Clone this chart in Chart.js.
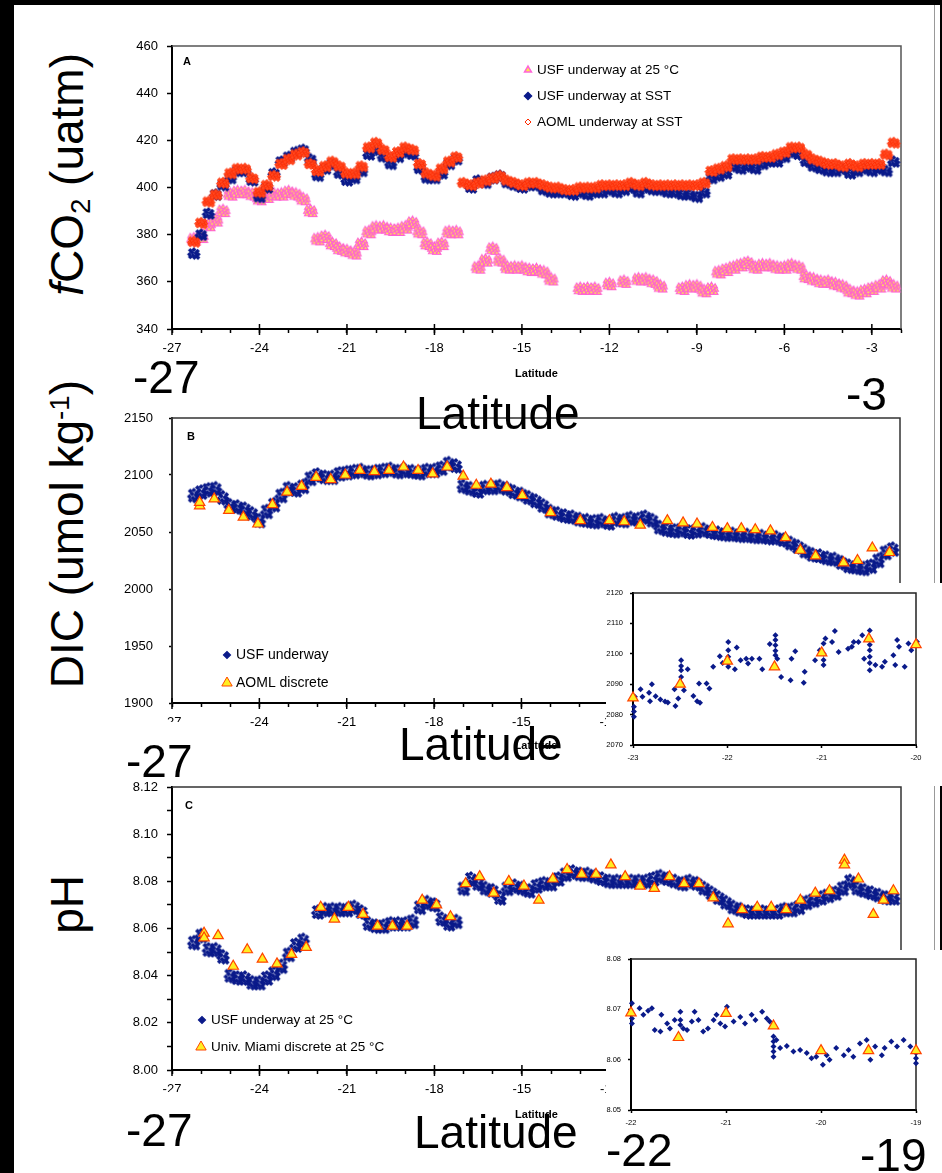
<!DOCTYPE html>
<html>
<head>
<meta charset="utf-8">
<script src="https://cdn.jsdelivr.net/npm/chart.js@4.4.0/dist/chart.umd.min.js"></script>
<style>
  body { margin: 0; background: #000; width: 942px; height: 1173px; overflow: hidden; position: relative; }
  #sheet { position: absolute; left: 14px; top: 5px; width: 926px; height: 1168px; background: #fff; }
  #edge { position: absolute; left: 934px; top: 5px; width: 1px; height: 1168px; background: #999; }
  canvas { position: absolute; }
  canvas.inset { background: #fff; }
  .big, .ytitle { position: absolute; font-family: "Liberation Sans", Arial, sans-serif; font-size: 46px; line-height: 1; color: #000; white-space: nowrap; }
  .ytitle { transform: rotate(-90deg); transform-origin: 0 0; text-align: right; }
  .ytitle sub { font-size: 0.6em; vertical-align: baseline; position: relative; top: 0.25em; line-height: 0; }
  .ytitle sup { font-size: 0.6em; vertical-align: baseline; position: relative; top: -0.5em; line-height: 0; }
  .mask { position: absolute; background: #fff; }
</style>
</head>
<body>
<div id="sheet"></div>
<div id="edge"></div>

<canvas id="chartA" width="800" height="345" style="left:122px; top:36px;"></canvas>
<canvas id="chartB" width="800" height="345" style="left:122px; top:408px;"></canvas>
<canvas id="chartC" width="800" height="345" style="left:122px; top:777px;"></canvas>
<canvas id="insetB" class="inset" width="336" height="203" style="left:606px; top:583px;"></canvas>
<canvas id="insetC" class="inset" width="336" height="223" style="left:606px; top:950px;"></canvas>

<div class="mask" style="left:150px; top:722px; width:45px; height:10px;"></div>
<div class="mask" style="left:150px; top:1092px; width:45px; height:9px;"></div>

<div class="ytitle" style="left:44px; top:373px; width:320px;"><i>f</i>CO<sub>2</sub> (uatm)</div>
<div class="ytitle" style="left:44px; top:720px; width:340px;">DIC (umol kg<sup>-1</sup>)</div>
<div class="ytitle" style="left:44px; top:975px; width:100px;">pH</div>

<div class="big" style="left:133px; top:354px;">-27</div>
<div class="big" style="left:416px; top:390px;">Latitude</div>
<div class="big" style="left:846px; top:371px;">-3</div>
<div class="big" style="left:126px; top:738px;">-27</div>
<div class="big" style="left:399px; top:721px;">Latitude</div>
<div class="big" style="left:126px; top:1107px;">-27</div>
<div class="big" style="left:414px; top:1109px;">Latitude</div>
<div class="big" style="left:606px; top:1127px;">-22</div>
<div class="big" style="left:860px; top:1132px;">-19</div>

<script>
// latitude grid shared by the underway series (0.25 degree bins)
const lat = [
  -26.5, -26.25, -26, -25.75, -25.5, -25.25, -25, -24.75, -24.5, -24.25,
  -24, -23.75, -23.5, -23.25, -23, -22.75, -22.5, -22.25, -22, -21.75,
  -21.5, -21.25, -21, -20.75, -20.5, -20.25, -20, -19.75, -19.5, -19.25,
  -19, -18.75, -18.5, -18.25, -18, -17.75, -17.5, -17.25, -17, -16.75,
  -16.5, -16.25, -16, -15.75, -15.5, -15.25, -15, -14.75, -14.5, -14.25,
  -14, -13.75, -13.5, -13.25, -13, -12.75, -12.5, -12.25, -12, -11.75,
  -11.5, -11.25, -11, -10.75, -10.5, -10.25, -10, -9.75, -9.5, -9.25,
  -9, -8.75, -8.5, -8.25, -8, -7.75, -7.5, -7.25, -7, -6.75,
  -6.5, -6.25, -6, -5.75, -5.5, -5.25, -5, -4.75, -4.5, -4.25,
  -4, -3.75, -3.5, -3.25, -3, -2.75, -2.5, -2.25, -2
];

// A: fCO2 (uatm)
const fco2UsfSst = [
  null, 372, 380, 389, 397, 401, 404, 407, 407, 403,
  396, 400, 406, 411, 413, 415, 416, 412, 405, 408,
  410, 406, 403, 404, 407, 414, 416, 413, 410, 413,
  415, 414, 408, 404, 404, 406, 410, 412, null, 400,
  403, 402, 404, 405, 402, 401, 400, 401, 401, 399,
  398, 398, 398, 397, 398, 397, 398, 398, 399, 398,
  399, 400, 398, 400, 399, 399, 398, 398, 397, 397,
  396, 398, 404, 405, 406, 409, 408, 409, 408, 410,
  411, 411, 413, 415, 414, 411, 409, 408, 407, 407,
  408, 406, 407, 408, 407, 408, 407, 411, null
];
const fco2AomlSst = [
  null, 377, 385, 394, 397, 402, 406, 408, 408, 404,
  398, 401, 405, 410, 412, 414, 415, 410, 407, 409,
  411, 409, 406, 406, 409, 417, 419, 416, 413, 415,
  417, 416, 410, 406, 405, 408, 411, 413, 402, 401,
  402, 403, 404, 405, 403, 402, 401, 402, 402, 401,
  400, 400, 399, 399, 400, 400, 400, 401, 401, 401,
  401, 402, 401, 402, 401, 401, 401, 401, 401, 401,
  401, 402, 407, 408, 409, 412, 412, 412, 412, 413,
  413, 414, 415, 417, 417, 414, 412, 411, 410, 410,
  409, 410, 409, 410, 410, 410, 414, 419, null
];
const fco2Usf25 = [
  null, 378, 379, 384, 386, 390, 397, 398, 398, 397,
  395, 396, 397, 397, 398, 397, 395, 390, 378, 379,
  376, 374, 373, 372, 376, 381, 383, 383, 382, 382,
  383, 385, 381, 376, 374, 376, 381, 381, null, null,
  366, 369, 374, 369, 366, 366, 366, 365, 365, 364,
  361, null, null, null, 357, 357, 357, null, 359, null,
  360, null, 361, 361, 360, 358, null, null, 357, 358,
  358, 356, 357, 364, 365, 366, 367, 368, 366, 367,
  367, 366, 366, 367, 366, 362, 361, 360, 360, 359,
  358, 356, 355, 356, 357, 358, 360, 358, null
];

// B: DIC (umol/kg)
const dicUsf = [
  null, 2082, 2085, 2087, 2088, 2080, 2073, 2072, 2070, 2066,
  2060, 2068, 2074, 2082, 2088, 2087, 2090, 2097, 2100, 2098,
  2098, 2101, 2102, 2103, 2104, 2102, 2103, 2104, 2105, 2103,
  2104, 2103, 2102, 2104, 2104, 2106, 2110, 2108, 2090, 2088,
  2086, 2089, 2089, 2090, 2088, 2085, 2083, 2080, 2077, 2073,
  2068, 2066, 2064, 2063, 2061, 2060, 2059, 2060, 2058, 2061,
  2060, 2062, 2061, 2063, 2060, 2054, 2052, 2051, 2052, 2050,
  2051, 2052, 2050, 2049, 2048, 2048, 2047, 2047, 2046, 2046,
  2045, 2045, 2043, 2040, 2037, 2033, 2030, 2029, 2027, 2026,
  2023, 2020, 2019, 2018, 2020, 2025, 2032, 2035, null
];
const dicAomlLat = [
  -26.05, -26.05, -25.55, -25.05, -24.55, -24.05, -23.55, -23.05, -22.55, -22.05, -21.55,
  -21.05, -20.55, -20.05, -19.55, -19.05, -18.55, -18.05, -17.55, -17.0, -16.55, -16.05,
  -15.5, -14.97, -14.0, -12.98, -11.98, -11.47, -10.92, -9.99, -9.45, -8.97, -8.44,
  -7.93, -7.45, -6.97, -6.45, -5.93, -5.42, -4.9, -3.94, -3.46, -2.95, -2.36
];
const dicAoml = [
  2073, 2076, 2079, 2069, 2063, 2057, 2074, 2085, 2090, 2098, 2096,
  2100, 2104, 2103, 2104, 2107, 2104, 2101, 2107, 2099, 2091, 2092,
  2089, 2082, 2067, 2060, 2060, 2059, 2056, 2060, 2058, 2057, 2054,
  2053, 2053, 2052, 2051, 2045, 2034, 2029, 2023, 2025, 2036, 2032
];

// C: pH at 25 C
const phUsf = [
  null, 8.054, 8.057, 8.051, 8.051, 8.048, 8.040, 8.039, 8.039, 8.037,
  8.037, 8.039, 8.041, 8.044, 8.049, 8.053, 8.055, null, 8.067, 8.068,
  8.068, 8.068, 8.068, 8.069, 8.067, 8.062, 8.061, 8.061, 8.062, 8.062,
  8.062, 8.063, 8.069, 8.071, 8.070, 8.064, 8.062, 8.063, 8.077, 8.081,
  8.079, 8.077, 8.076, 8.073, 8.077, 8.078, 8.077, 8.076, 8.078, 8.079,
  8.079, 8.081, 8.083, 8.084, 8.083, 8.083, 8.082, 8.081, 8.080, 8.080,
  8.080, 8.080, 8.080, 8.080, 8.081, 8.082, 8.081, 8.080, 8.079, 8.080,
  8.079, 8.077, 8.075, 8.073, 8.071, 8.069, 8.068, 8.067, 8.067, 8.067,
  8.067, 8.067, 8.068, 8.068, 8.069, 8.071, 8.072, 8.073, 8.074, 8.075,
  8.077, 8.080, 8.077, 8.076, 8.075, 8.074, 8.073, 8.073, null
];
const phMiamiLat = [
  -25.9, -25.9, -25.42, -24.9, -24.42, -23.9, -23.4, -22.9, -22.4, -21.9, -21.43, -20.95, -20.45,
  -19.95, -19.44, -18.94, -18.42, -17.93, -17.45, -16.93, -16.45, -15.97, -15.45, -14.93, -14.42,
  -13.94, -13.45, -12.95, -12.46, -11.95, -11.46, -10.95, -10.46, -9.94, -9.44, -8.93, -8.44,
  -7.93, -7.45, -6.93, -6.45, -5.94, -5.45, -4.94, -4.45, -3.94, -3.94, -3.46, -2.95, -2.6, -2.26
];
const phMiami = [
  8.058, 8.056, 8.057, 8.044, 8.051, 8.047, 8.045, 8.049, 8.052, 8.069, 8.064, 8.069, 8.066,
  8.061, 8.061, 8.061, 8.072, 8.070, 8.065, 8.079, 8.082, 8.075, 8.080, 8.078, 8.072,
  8.081, 8.085, 8.083, 8.083, 8.087, 8.082, 8.078, 8.077, 8.082, 8.079, 8.079, 8.073,
  8.062, 8.068, 8.069, 8.069, 8.068, 8.072, 8.075, 8.076, 8.089, 8.087, 8.081, 8.066, 8.072, 8.076
];

// inset of B: -23 to -20
const insetDicLat = [
  -22.99, -22.99, -22.99, -22.98, -22.92, -22.9, -22.83, -22.82, -22.8, -22.76, -22.71, -22.66, -22.63,
  -22.56, -22.55, -22.52, -22.49, -22.49, -22.49, -22.49, -22.49, -22.46, -22.42, -22.36, -22.32, -22.3,
  -22.29, -22.22, -22.19, -22.15, -22.08, -22.05, -21.99, -21.99, -21.99, -21.99, -21.99, -21.92, -21.9,
  -21.86, -21.8, -21.78, -21.74, -21.66, -21.63, -21.55, -21.49, -21.49, -21.49, -21.49, -21.49, -21.47,
  -21.43, -21.33, -21.32, -21.28, -21.19, -21.18, -21.07, -21.02, -20.98, -20.98, -20.98, -20.98, -20.96,
  -20.89, -20.86, -20.82, -20.72, -20.68, -20.66, -20.61, -20.57, -20.55, -20.49, -20.49, -20.49, -20.49,
  -20.49, -20.49, -20.49, -20.43, -20.36, -20.33, -20.24, -20.22, -20.2, -20.18, -20.12, -20.08, -20.05,
  -19.99, -19.99, -19.99, -19.99
];
const insetDicUsf = [
  2079.3, 2081, 2082.6, 2085.9, 2088.3, 2085.9, 2087.2, 2084.4, 2090, 2086, 2085, 2084.3, 2084,
  2088.3, 2082.8, 2085.3, 2097.9, 2096, 2094.6, 2092.4, 2090.2, 2088, 2094.9, 2086.1, 2084.4, 2090.2,
  2083.9, 2090.2, 2088.6, 2095.7, 2099.2, 2097, 2103.9, 2101.2, 2099, 2097, 2095.7, 2094.9, 2102.1,
  2097.9, 2098.4, 2096.8, 2098.4, 2098.4, 2094.9, 2103.2, 2106.1, 2104.5, 2102.8, 2101, 2099.5, 2098.4,
  2092.4, 2091.3, 2098.4, 2100.8, 2090.5, 2094.1, 2097.9, 2101.2, 2103.4, 2100, 2098, 2096.3, 2105,
  2103.9, 2107.5, 2100.6, 2101.7, 2102.3, 2103.9, 2103.9, 2106.1, 2098.4, 2107.7, 2105, 2103, 2101.2,
  2099, 2097, 2094.6, 2096.3, 2095.7, 2097.4, 2099.5, 2096.3, 2104.5, 2102.3, 2095.7, 2103.4, 2101.2,
  2104, 2102, 2098.8, 2096.6
];
const insetDicAomlLat = [-23, -22.5, -22, -21.5, -21, -20.5, -20];
const insetDicAoml = [2085.5, 2090, 2097.6, 2095.7, 2100.3, 2104.9, 2103];

// inset of C: -22 to -19
const insetPhLat = [
  -21.99, -21.99, -21.99, -21.91, -21.87, -21.82, -21.78, -21.75, -21.69, -21.68, -21.62, -21.59,
  -21.54, -21.48, -21.48, -21.48, -21.45, -21.41, -21.36, -21.33, -21.29, -21.24, -21.19, -21.13,
  -21.1, -21.06, -21.01, -20.99, -20.92, -20.85, -20.8, -20.73, -20.69, -20.62, -20.57, -20.54,
  -20.5, -20.5, -20.5, -20.5, -20.5, -20.47, -20.43, -20.36, -20.29, -20.22, -20.15, -20.1, -20.05,
  -19.98, -19.94, -19.91, -19.84, -19.76, -19.71, -19.66, -19.59, -19.52, -19.48, -19.43, -19.36,
  -19.33, -19.26, -19.2, -19.13, -19.06, -19, -19, -19
];
const insetPhUsf = [
  8.0712, 8.0682, 8.0672, 8.0702, 8.0689, 8.0697, 8.0702, 8.0659, 8.0656, 8.0689, 8.0672, 8.0662,
  8.0679, 8.0695, 8.0679, 8.0669, 8.0662, 8.0659, 8.0676, 8.0695, 8.0679, 8.0656, 8.0662, 8.0679,
  8.0689, 8.0672, 8.0666, 8.0705, 8.0676, 8.0685, 8.0672, 8.0689, 8.0679, 8.0695, 8.0682, 8.0676,
  8.0646, 8.0636, 8.0626, 8.0616, 8.0606, 8.0639, 8.0623, 8.0627, 8.0616, 8.0619, 8.0613, 8.0603, 8.0606,
  8.059, 8.0609, 8.06, 8.0623, 8.0609, 8.0619, 8.0606, 8.0632, 8.0639, 8.06, 8.0626, 8.0609,
  8.0623, 8.0636, 8.0626, 8.0639, 8.0626, 8.0613, 8.0603, 8.0593
];
const insetPhMiamiLat = [-22, -21.5, -21, -20.5, -20, -19.5, -19];
const insetPhMiami = [8.0693, 8.0644, 8.0692, 8.0667, 8.0618, 8.0618, 8.0618];

const FONT = '"Liberation Sans", Arial, sans-serif';
Chart.defaults.font.family = FONT;
Chart.defaults.color = '#000';

const NAVY = '#0a1a8a';
const xy = (xs, ys) => xs.map((x, i) => ({ x, y: ys[i] })).filter(p => p.y !== null);

// each underway bin is drawn as a small cluster of glyphs, like the raw 1-minute data
const CLUSTER = [[-0.8, -0.8], [0, -1], [0.8, -0.6], [-0.4, -0.3], [0.4, -0.1], [-1, 0.2],
  [1, 0.2], [-0.2, 0.45], [0.6, 0.6], [-0.8, 0.85], [0.1, 1], [0.9, 1]];
function clusterSprite(glyph, r, hw, hh, fill, stroke, lw) {
  const c = document.createElement('canvas');
  c.width = Math.ceil(2 * (hw + r) + 4);
  c.height = Math.ceil(2 * (hh + r) + 4);
  const g = c.getContext('2d');
  g.fillStyle = fill; g.strokeStyle = stroke; g.lineWidth = lw;
  CLUSTER.forEach(([u, v]) => Chart.helpers.drawPoint(g,
    { pointStyle: glyph, radius: r, borderWidth: lw, rotation: 0 }, c.width / 2 + u * hw, c.height / 2 + v * hh));
  return c;
}

const styles = {
  usf:   { pointStyle: 'rectRot', radius: 5, backgroundColor: NAVY, borderColor: NAVY, borderWidth: 0 },
  aoml:  { pointStyle: 'rectRot', radius: 5, backgroundColor: '#ff3a14', borderColor: '#ff2a00', borderWidth: 1 },
  pink:  { pointStyle: 'triangle', radius: 5, backgroundColor: '#ffe64a', borderColor: '#ff66d8', borderWidth: 1.5 },
  disc:  { pointStyle: 'triangle', radius: 6, backgroundColor: '#ffee22', borderColor: '#ff4400', borderWidth: 1.2 },
  small: { pointStyle: 'rectRot', radius: 3, backgroundColor: NAVY, borderColor: NAVY, borderWidth: 0 }
};
const sprites = {
  usfA:  clusterSprite('rectRot', 2.4, 4.5, 4, NAVY, NAVY, 0),
  usfBC: clusterSprite('rectRot', 2.5, 4.5, 5.5, NAVY, NAVY, 0),
  aoml:  clusterSprite('rectRot', 2.2, 4.5, 3.5, '#ff4a22', '#ff2a00', 0.8),
  pink:  clusterSprite('triangle', 2.8, 4.5, 4, '#ffe94d', '#ff5fd2', 1.1)
};

function series(data, s, sprite) {
  return { data, showLine: false, clip: false, pointStyle: sprite || s.pointStyle, pointRadius: s.radius,
    pointBackgroundColor: s.backgroundColor, pointBorderColor: s.borderColor, pointBorderWidth: s.borderWidth };
}

// frame on top/right, long major ticks on the x axis, panel letter and in-plot legend
const decor = {
  id: 'decor',
  beforeDatasetsDraw(chart, args, o) {
    const { ctx, chartArea: a } = chart;
    const x = chart.scales.x;
    ctx.save();
    ctx.strokeStyle = o.frameColor || '#555';
    ctx.lineWidth = o.frameWidth || 1.5;
    ctx.beginPath();
    ctx.moveTo(a.left, a.top); ctx.lineTo(a.right, a.top); ctx.lineTo(a.right, a.bottom);
    ctx.stroke();
    if (o.major) {
      ctx.strokeStyle = '#000'; ctx.lineWidth = 1.5;
      x.ticks.forEach(t => {
        if (Math.round(t.value) % o.major === 0) {
          const px = x.getPixelForValue(t.value);
          ctx.beginPath(); ctx.moveTo(px, a.bottom - 5); ctx.lineTo(px, a.bottom + 6); ctx.stroke();
        }
      });
    }
    ctx.restore();
  },
  afterDraw(chart, args, o) {
    const { ctx } = chart;
    ctx.save();
    ctx.textBaseline = 'middle'; ctx.textAlign = 'left';
    if (o.tag) {
      ctx.font = 'bold 11px ' + FONT; ctx.fillStyle = '#000';
      ctx.fillText(o.tag.text, o.tag.x, o.tag.y);
    }
    (o.legend || []).forEach(it => {
      const s = styles[it.style];
      ctx.fillStyle = it.hollow ? '#fff' : s.backgroundColor;
      ctx.strokeStyle = s.borderColor; ctx.lineWidth = it.bw != null ? it.bw : s.borderWidth;
      Chart.helpers.drawPoint(ctx, { pointStyle: s.pointStyle, radius: it.r, borderWidth: ctx.lineWidth, rotation: 0 }, it.x, it.y);
      ctx.fillStyle = '#000'; ctx.font = it.size + 'px ' + FONT;
      ctx.fillText(it.label, it.tx, it.y);
    });
    ctx.restore();
  }
};
Chart.register(decor);

// keep the plot box exactly where the layout padding puts it
function fixBox(s, key, size) {
  s[key] = size;
  s.paddingTop = 0; s.paddingBottom = 0; s.paddingLeft = 0; s.paddingRight = 0;
}

function xLat(min, max, h, opts = {}) {
  return {
    type: 'linear', min, max,
    ticks: { stepSize: 1, autoSkip: false, maxRotation: 0, padding: opts.pad || 8,
      font: { size: opts.size || 13 },
      callback: v => (opts.every && Math.round(v) % opts.every !== 0) ? '' : String(Math.round(v)) },
    grid: { drawOnChartArea: false, tickLength: opts.tick || 4, tickColor: '#000', tickWidth: 1.5 },
    border: { color: '#000', width: 2 },
    title: { display: !opts.noTitle, text: 'Latitude', font: { size: 11, weight: 'bold' }, padding: 0 },
    afterFit: s => fixBox(s, 'height', h)
  };
}
function yVal(min, max, step, w, opts = {}) {
  return {
    type: 'linear', min, max,
    ticks: { stepSize: step, padding: opts.pad || 9, font: { size: opts.size || 13 },
      callback: opts.cb || (v => String(v)) },
    grid: { drawOnChartArea: false, tickLength: opts.tick || 5, tickColor: '#000', tickWidth: 1.5 },
    border: { color: opts.axisColor || '#000', width: 2, dash: opts.dash || [] },
    afterFit: s => fixBox(s, 'width', w)
  };
}

function panel(id, datasets, x, y, pad, decorOpts) {
  return new Chart(document.getElementById(id), {
    type: 'scatter',
    data: { datasets },
    options: {
      responsive: false, animation: false, devicePixelRatio: 1, events: [],
      layout: { padding: pad },
      plugins: { legend: { display: false }, tooltip: { enabled: false }, decor: decorOpts },
      scales: { x, y }
    }
  });
}

// A
panel('chartA', [
  series(xy(lat, fco2AomlSst), styles.aoml, sprites.aoml),
  series(xy(lat, fco2UsfSst), styles.usf, sprites.usfA),
  series(xy(lat, fco2Usf25), styles.pink, sprites.pink)
], xLat(-27, -2, 52, { every: 3 }), yVal(340, 460, 20, 50),
  { top: 10, right: 21, left: 0, bottom: 0 },
  { major: 3, frameColor: '#555', tag: { text: 'A', x: 61, y: 26 }, legend: [
    { style: 'pink', r: 4, bw: 1.5, x: 406, y: 34, tx: 415, size: 13.5, label: 'USF underway at 25 \u00B0C' },
    { style: 'usf', r: 3.5, x: 406, y: 60, tx: 415, size: 13.5, label: 'USF underway at SST' },
    { style: 'aoml', r: 3, x: 406, y: 86, tx: 415, size: 13.5, hollow: true, label: 'AOML underway at SST' }
  ] });

// B
panel('chartB', [
  series(xy(dicAomlLat, dicAoml), styles.disc),
  series(xy(lat, dicUsf), styles.usf, sprites.usfBC)
], xLat(-27, -2, 50, { every: 3 }), yVal(1900, 2150, 50, 50, { tick: 3, pad: 16, dash: [3, 2], axisColor: '#333' }),
  { top: 10, right: 22, left: 0, bottom: 0 },
  { major: 3, frameColor: '#333', tag: { text: 'B', x: 65, y: 29 }, legend: [
    { style: 'usf', r: 3.5, x: 105, y: 247, tx: 114, size: 14, label: 'USF underway' },
    { style: 'disc', r: 6, x: 105, y: 275, tx: 114, size: 14, bw: 1, label: 'AOML discrete' }
  ] });

// C
panel('chartC', [
  series(xy(phMiamiLat, phMiami), styles.disc),
  series(xy(lat, phUsf), styles.usf, sprites.usfBC)
], xLat(-27, -2, 52, { every: 3 }), yVal(8.0, 8.12, 0.01, 50, {
    cb: v => (Math.round(v * 100) % 2 === 0 ? v.toFixed(2) : '') }),
  { top: 10, right: 21, left: 0, bottom: 0 },
  { major: 3, frameColor: '#333', tag: { text: 'C', x: 63, y: 29 }, legend: [
    { style: 'usf', r: 3.5, x: 80, y: 243, tx: 89, size: 13.5, label: 'USF underway at 25 \u00B0C' },
    { style: 'disc', r: 6, x: 79, y: 270, tx: 89, size: 13.5, bw: 1, label: 'Univ. Miami discrete at 25 \u00B0C' }
  ] });

// insets
const insetX = (min, max, h) => xLat(min, max, h, { size: 7.5, pad: 5, tick: 3, noTitle: true });
panel('insetB', [
  series(xy(insetDicAomlLat, insetDicAoml), styles.disc),
  series(xy(insetDicLat, insetDicUsf), styles.small)
], insetX(-23, -20, 41), yVal(2070, 2120, 10, 27, { size: 7.5, pad: 7, tick: 3 }),
  { top: 10, right: 26, left: 0, bottom: 0 }, { frameColor: '#222' });

panel('insetC', [
  series(xy(insetPhMiamiLat, insetPhMiami), styles.disc),
  series(xy(insetPhLat, insetPhUsf), styles.small)
], insetX(-22, -19, 63), yVal(8.05, 8.08, 0.01, 25, { size: 7.5, pad: 7, tick: 3,
    cb: v => v.toFixed(2) }),
  { top: 9, right: 26, left: 0, bottom: 0 }, { frameColor: '#222' });
</script>
</body>
</html>
